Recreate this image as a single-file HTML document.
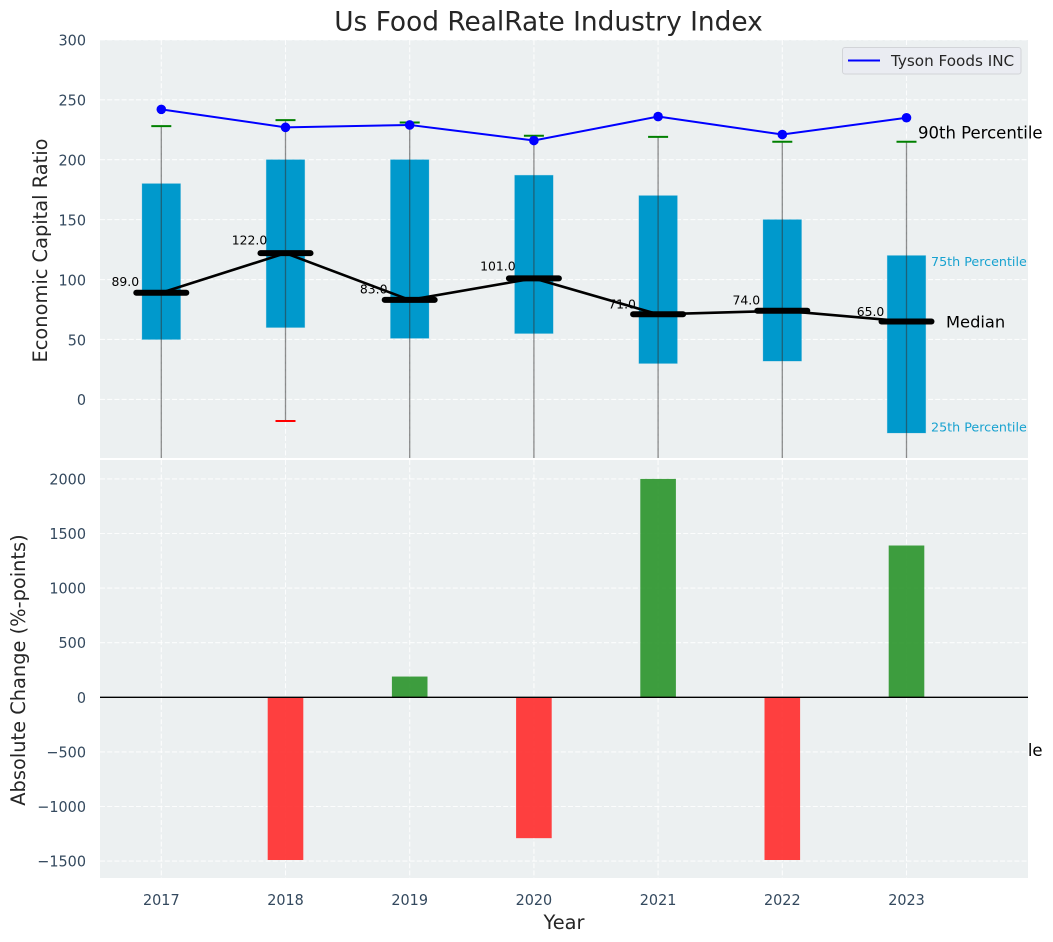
<!DOCTYPE html>
<html>
<head>
<meta charset="utf-8">
<title>Us Food RealRate Industry Index</title>
<style>
html,body{margin:0;padding:0;background:#fff;}
svg{display:block;font-family:"DejaVu Sans","Liberation Sans",sans-serif;}
</style>
</head>
<body>
<svg id="chart" xmlns="http://www.w3.org/2000/svg" width="1053" height="942" viewBox="0 0 1053 942"></svg>
<script>
const years = [2017, 2018, 2019, 2020, 2021, 2022, 2023];
const p90 = [228, 233, 231, 220, 219, 215, 215];
const p75 = [180, 200, 200, 187, 170, 150, 120];
const medians = [89, 122, 83, 101, 71, 74, 65];
const p25 = [50, 60, 51, 55, 30, 32, -28];
const p10 = [-80, -18, -70, -90, -110, -120, -300];
const tyson = [242, 227, 229, 216, 236, 221, 235];
const changes = [0, -1490, 190, -1290, 2000, -1490, 1390];
const topTicks = [300, 250, 200, 150, 100, 50, 0];
const bottomTicks = [2000, 1500, 1000, 500, 0, -500, -1000, -1500];

const NS = 'http://www.w3.org/2000/svg';
const svg = document.getElementById('chart');
const L = 100, R = 1028, T1 = 40, B1 = 458, T2 = 460, B2 = 878;
const xs = v => 161.3 + (v - 2017) * 124.2;
const y1 = v => 399.4 - v * 1.1985;
const y2 = v => 697.3 - v * 0.1092;
const TICK = '#34495e';

function mk(tag, attrs, parent, text) {
  const e = document.createElementNS(NS, tag);
  for (const k in attrs) e.setAttribute(k, attrs[k]);
  if (text !== undefined) e.textContent = text;
  (parent || svg).appendChild(e);
  return e;
}
function label(e, name, inter) {
  
  
  return e;
}
/* tick text: measured at the base size, drawn slightly taller within the same width */
function tickText(attrs, str) {
  const e = mk('text', Object.assign({'font-size': 14.4, fill: TICK}, attrs), svg, str);
  const w = e.getComputedTextLength();
  e.setAttribute('font-size', 15.4);
  e.setAttribute('textLength', w);
  e.setAttribute('lengthAdjust', 'spacingAndGlyphs');
  return e;
}

const defs = mk('defs', {});
const cp = mk('clipPath', {id: 'clipTop'}, defs);
mk('rect', {x: L, y: T1, width: R - L, height: B1 - T1}, cp);

/* top panel */
const panelTop = mk('rect', {x: L, y: T1, width: R - L, height: B1 - T1, fill: '#ecf0f1'});
label(panelTop, 'top-panel-background', false);

/* 10th percentile annotation sits below the bottom panel and is covered by it */
const p10Text = mk('text', {x: 918, y: y1(p10[6]) - 3, 'font-size': 16.5, fill: '#000'}, svg, '10th Percentile');
label(p10Text, 'annotation-10th-percentile', false);

const gridStyle = {stroke: '#fff', 'stroke-width': 1.1, 'stroke-dasharray': '5 2.2', 'stroke-opacity': 0.85};
const gridTop = mk('g', gridStyle);
label(gridTop, 'top-grid', false);
topTicks.forEach(t => {
  mk('line', {x1: L, x2: R, y1: y1(t), y2: y1(t)}, gridTop);
});
years.forEach(yr => {
  mk('line', {x1: xs(yr), x2: xs(yr), y1: T1, y2: B1}, gridTop);
});

/* boxes, whiskers, caps */
const boxes = mk('g', {'clip-path': 'url(#clipTop)'});
label(boxes, 'percentile-boxes', false);
years.forEach((yr, i) => {
  const x = xs(yr);
  const box = mk('rect', {x: x - 19.2, y: y1(p75[i]), width: 38.4, height: y1(p25[i]) - y1(p75[i]), fill: '#0099cc', stroke: '#0099cc', 'stroke-opacity': 0.3, 'stroke-width': 0.8}, boxes);
  label(box, 'box-' + yr, false);
  const wh = mk('line', {x1: x, x2: x, y1: y1(p90[i]), y2: y1(p10[i]), stroke: '#333', 'stroke-opacity': 0.55, 'stroke-width': 1.3}, boxes);
  label(wh, 'whisker-' + yr, false);
  const capHi = mk('line', {x1: x - 10, x2: x + 10, y1: y1(p90[i]), y2: y1(p90[i]), stroke: '#008000', 'stroke-width': 2}, boxes);
  label(capHi, 'cap-90th-' + yr, false);
  const capLo = mk('line', {x1: x - 10, x2: x + 10, y1: y1(p10[i]), y2: y1(p10[i]), stroke: '#ff0000', 'stroke-width': 2}, boxes);
  label(capLo, 'cap-10th-' + yr, false);
});

/* median value labels */
years.forEach((yr, i) => {
  const t = mk('text', {x: xs(yr) - 36, y: y1(medians[i] * 1.05 + 5) + 4.4, 'text-anchor': 'middle', 'font-size': 12.4, fill: '#000'}, svg, medians[i].toFixed(1));
  label(t, 'median-value-' + yr, false);
});

/* median connecting line and bars */
const medLine = mk('polyline', {points: years.map((yr, i) => xs(yr) + ',' + y1(medians[i])).join(' '), fill: 'none', stroke: '#000', 'stroke-width': 2.6});
label(medLine, 'median-line', false);
years.forEach((yr, i) => {
  const m = mk('line', {x1: xs(yr) - 25, x2: xs(yr) + 25, y1: y1(medians[i]), y2: y1(medians[i]), stroke: '#000', 'stroke-width': 6, 'stroke-linecap': 'round'});
  label(m, 'median-bar-' + yr, false);
});

/* Tyson line */
const tysonLine = mk('polyline', {points: years.map((yr, i) => xs(yr) + ',' + y1(tyson[i])).join(' '), fill: 'none', stroke: '#0000ff', 'stroke-width': 2});
label(tysonLine, 'tyson-line', false);
years.forEach((yr, i) => {
  const c = mk('circle', {cx: xs(yr), cy: y1(tyson[i]), r: 4.8, fill: '#0000ff'});
  label(c, 'tyson-point-' + yr, false);
});

/* annotations */
const a90 = mk('text', {x: 918, y: y1(p90[6]) - 3, 'font-size': 16.5, fill: '#000'}, svg, '90th Percentile');
label(a90, 'annotation-90th-percentile', false);
const a75 = mk('text', {x: 931, y: y1(p75[6]) + 10.5, 'font-size': 12.7, fill: '#0099cc', 'fill-opacity': 0.9}, svg, '75th Percentile');
label(a75, 'annotation-75th-percentile', false);
const a25 = mk('text', {x: 931, y: y1(p25[6]) - 1.6, 'font-size': 12.7, fill: '#0099cc', 'fill-opacity': 0.9}, svg, '25th Percentile');
label(a25, 'annotation-25th-percentile', false);
const aMed = mk('text', {x: 946, y: y1(medians[6]) + 5.8, 'font-size': 16.3, fill: '#000'}, svg, 'Median');
label(aMed, 'annotation-median', false);

/* legend */
const legend = mk('g', {});
label(legend, 'legend', false);
mk('rect', {x: 842.5, y: 47.5, width: 178.5, height: 26.5, rx: 2.5, fill: '#eaecf2', stroke: '#d2d4d8', 'stroke-width': 1}, legend);
mk('line', {x1: 848, x2: 880, y1: 60.5, y2: 60.5, stroke: '#0000ff', 'stroke-width': 2}, legend);
const legendText = mk('text', {x: 891, y: 66, 'font-size': 15.2, fill: '#262626'}, legend, 'Tyson Foods INC');
label(legendText, 'legend-entry-tyson', false);

/* bottom panel */
const panelBottom = mk('rect', {x: L, y: T2, width: R - L, height: B2 - T2, fill: '#ecf0f1'});
label(panelBottom, 'bottom-panel-background', false);
const gridBottom = mk('g', gridStyle);
label(gridBottom, 'bottom-grid', false);
bottomTicks.forEach(t => {
  mk('line', {x1: L, x2: R, y1: y2(t), y2: y2(t)}, gridBottom);
});
years.forEach(yr => {
  mk('line', {x1: xs(yr), x2: xs(yr), y1: T2, y2: B2}, gridBottom);
});

/* change bars */
years.forEach((yr, i) => {
  const v = changes[i];
  if (v === 0) return;
  const top = Math.min(y2(v), y2(0));
  const h = Math.abs(y2(v) - y2(0));
  const col = v >= 0 ? '#2e962f' : '#ff3030';
  const b = mk('rect', {x: xs(yr) - 17.8, y: top, width: 35.6, height: h, fill: col, 'fill-opacity': 0.92});
  label(b, 'change-bar-' + yr, false);
});
const zero = mk('line', {x1: L, x2: R, y1: y2(0), y2: y2(0), stroke: '#000', 'stroke-width': 1.4});
label(zero, 'zero-line', false);

/* tick labels */
topTicks.forEach(t => {
  const e = tickText({x: 86, y: y1(t) + 5.8, 'text-anchor': 'end'}, String(t).replace('-', '\u2212'));
  label(e, 'y-tick-top-' + t, false);
});
bottomTicks.forEach(t => {
  const e = tickText({x: 86, y: y2(t) + 5.5, 'text-anchor': 'end'}, String(t).replace('-', '\u2212'));
  label(e, 'y-tick-bottom-' + t, false);
});
years.forEach(yr => {
  const e = tickText({x: xs(yr), y: 905, 'text-anchor': 'middle'}, String(yr));
  label(e, 'x-tick-' + yr, false);
});

/* titles */
const title = mk('text', {x: 548.5, y: 30.5, 'text-anchor': 'middle', 'font-size': 26.4, fill: '#262626'}, svg, 'Us Food RealRate Industry Index');
label(title, 'chart-title', false);
const yTop = mk('text', {transform: 'translate(47,250.5) rotate(-90)', 'text-anchor': 'middle', 'font-size': 19.4, fill: '#262626'}, svg, 'Economic Capital Ratio');
label(yTop, 'y-axis-title-top', false);
const yBottom = mk('text', {transform: 'translate(25,670) rotate(-90)', 'text-anchor': 'middle', 'font-size': 19.4, fill: '#262626'}, svg, 'Absolute Change (%-points)');
label(yBottom, 'y-axis-title-bottom', false);
const xTitle = mk('text', {x: 564, y: 929, 'text-anchor': 'middle', 'font-size': 19.4, fill: '#262626'}, svg, 'Year');
label(xTitle, 'x-axis-title', false);
</script>
</body>
</html>
